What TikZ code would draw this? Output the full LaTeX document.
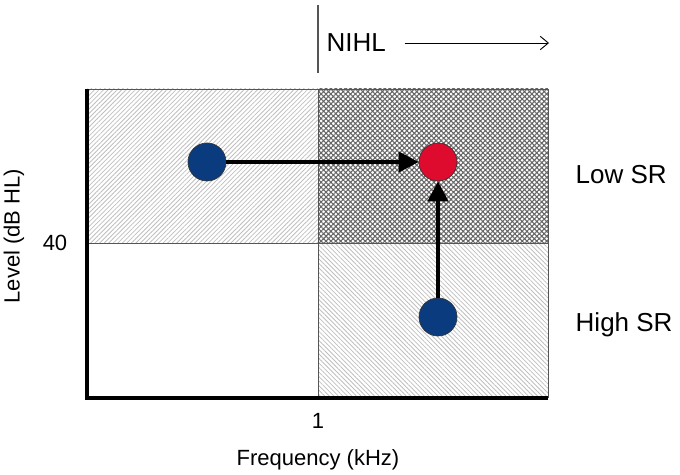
\documentclass[tikz,border=0pt]{standalone}
\usepackage{fontspec}
\setmainfont{Liberation Sans}
\usetikzlibrary{positioning}
\usetikzlibrary{arrows.meta}
\usetikzlibrary{patterns.meta}
\definecolor{srblue}{HTML}{0B3B7F}
\definecolor{srred}{HTML}{DE0B2E}
\definecolor{gridgray}{HTML}{555555}
\tikzset{Fiber/.style={circle,draw=black!80,line width=0.5pt,minimum size=28.5pt,inner sep=0pt}}
\tikzset{Shift/.style={line width=3pt,-{Triangle[length=15pt,width=15pt]}}}
\tikzset{LabelText/.style={font=\fontsize{16.5}{18}\selectfont}}
\tikzset{SideText/.style={font=\fontsize{19.5}{22}\selectfont,anchor=west}}

\begin{document}
\begin{tikzpicture}[x=0.75pt,y=-0.75pt]
        \useasboundingbox (0,0) rectangle (680,474);
        % quadrants
        \fill[pattern={Lines[angle=45,distance=2.4pt,line width=0.6pt]},pattern color=black!25]
            (87,89) rectangle (318,243);
        \fill[pattern={Hatch[angle=45,distance=2.6pt,line width=0.8pt]},pattern color=black!60]
            (318,89) rectangle (548,243);
        \fill[pattern={Lines[angle=-45,distance=2.4pt,line width=0.6pt]},pattern color=black!25]
            (318,243) rectangle (548,398);
        \draw[gridgray,line width=0.7pt] (87,89) -- (548,89) -- (548,398);
        \draw[gridgray,line width=0.7pt] (318,89) -- (318,398);
        \draw[gridgray,line width=0.7pt] (87,243) -- (548,243);
        \draw[black,line width=2.4pt] (87,89) -- (87,398) -- (548,398);
        % fibres
        \node[Fiber,fill=srblue] (pre) at (207,162) {};
        \node[Fiber,fill=srred] (post) at (438,162) {};
        \node[Fiber,fill=srblue] (hisr) at (438,317) {};
        \draw[Shift] (pre) -- (post);
        \draw[Shift] (hisr) -- (post);
        % labels
        \node[SideText] (lowsr) at (571,175) {Low SR};
        \node[SideText] (highsr) at (571,325) {High SR};
        \node[LabelText] (forty) at (55,243) {40};
        \node[LabelText] (one) at (318,421) {1};
        \node[LabelText] (freq) at (318,460) {Frequency (kHz)};
        \node[LabelText,rotate=90] (level) at (14,236) {Level (dB HL)};
        % NIHL
        \coordinate (mark top) at (318,5);
        \coordinate (mark bot) at (318,73);
        \draw[gridgray,line width=0.8pt] (mark top) -- (mark bot);
        \node[SideText] (nihl) at (322,43) {NIHL};
        \coordinate (nihl end) at (549,43);
        \draw[line width=0.7pt,-{Straight Barb[length=6pt,width=10pt]}] (nihl.east) ++(14,0) coordinate (nihl start) -- (nihl end);
    \end{tikzpicture}
\end{document}
